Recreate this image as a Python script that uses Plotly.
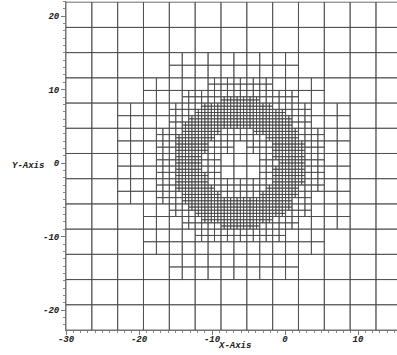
import plotly.graph_objects as go
import math

# ---- data ----
coarse_nx = 13                     # level-0 cells in x
coarse_ny = 13                     # level-0 cells in y
mesh_x = [-30.0, 16.0]             # mesh extent in x
mesh_y = [-22.7, 21.9]             # mesh extent in y
ring_center = [-6.25, 0.0]         # centre of the refined ring
ring_radius = 7.0                  # radius of the refined ring
refine_dist = [7.1, 3.4, 1.5]      # split a level-L cell when closer than this to the ring
x_ticks = [-30, -20, -10, 0, 10]
x_tick_text = ['-30', '-20', '-10', '0', '10']
y_ticks = [-20, -10, 0, 10, 20]
y_tick_text = ['-20', '-10', '0', '10', '20']

cx, cy = ring_center


def ring_dist(x0, y0, w, h):
    nx = min(max(cx, x0), x0 + w)
    ny = min(max(cy, y0), y0 + h)
    rmin = math.hypot(cx - nx, cy - ny)
    fx = max(abs(cx - x0), abs(cx - x0 - w))
    fy = max(abs(cy - y0), abs(cy - y0 - h))
    rmax = math.hypot(fx, fy)
    if rmin <= ring_radius <= rmax:
        return 0.0
    if ring_radius < rmin:
        return rmin - ring_radius
    return ring_radius - rmax


leaves = []


def build(x0, y0, w, h, lev):
    if lev < len(refine_dist) and ring_dist(x0, y0, w, h) < refine_dist[lev]:
        hw, hh = w / 2, h / 2
        for dx in (0, 1):
            for dy in (0, 1):
                build(x0 + dx * hw, y0 + dy * hh, hw, hh, lev + 1)
    else:
        leaves.append((x0, y0, w, h))


W0 = (mesh_x[1] - mesh_x[0]) / coarse_nx
H0 = (mesh_y[1] - mesh_y[0]) / coarse_ny
for i in range(coarse_nx):
    for j in range(coarse_ny):
        build(mesh_x[0] + i * W0, mesh_y[0] + j * H0, W0, H0, 0)

xs, ys = [], []
for (x0, y0, w, h) in leaves:
    xs += [x0, x0 + w, x0 + w, x0, x0, None]
    ys += [y0, y0, y0 + h, y0 + h, y0, None]

fig = go.Figure()
fig.add_trace(go.Scatter(x=xs, y=ys, mode='lines',
                         line=dict(color='#484848', width=0.8),
                         hoverinfo='skip', showlegend=False))

tick_font = dict(family='Liberation Mono', size=9, color='#222', weight='bold', style='italic')

fig.update_layout(
    width=397, height=355,
    margin=dict(l=66, r=0, t=1, b=25),
    plot_bgcolor='white', paper_bgcolor='white',
    xaxis=dict(range=[-30, -30 + 331 / 7.3], tickvals=x_ticks, ticktext=x_tick_text,
               showgrid=False, zeroline=False, showline=True, linecolor='#777', linewidth=1,
               ticks='outside', ticklen=4, tickcolor='#777', tickfont=tick_font,
               ticklabelstandoff=-4,
               minor=dict(dtick=1, ticks='outside', ticklen=2, tickcolor='#888', showgrid=False)),
    yaxis=dict(range=[-22.7, -22.7 + 329 / 7.35], tickvals=y_ticks, ticktext=y_tick_text,
               showgrid=False, zeroline=False, showline=True, linecolor='#777', linewidth=1,
               ticks='outside', ticklen=4, tickcolor='#777', tickfont=tick_font,
               minor=dict(dtick=1, ticks='outside', ticklen=2, tickcolor='#888', showgrid=False)),
    annotations=[
        dict(text='X-Axis', xref='paper', yref='paper', x=0.508, y=-0.049,
             showarrow=False, xanchor='center', yanchor='middle', font=tick_font),
        dict(text='Y-Axis', xref='paper', yref='paper', x=-0.115, y=0.497,
             showarrow=False, xanchor='center', yanchor='middle', font=tick_font),
    ],
)

fig.write_html('out.html', config={'displayModeBar': False},
               post_script="document.body.style.margin='0';document.body.style.overflow='hidden';")
